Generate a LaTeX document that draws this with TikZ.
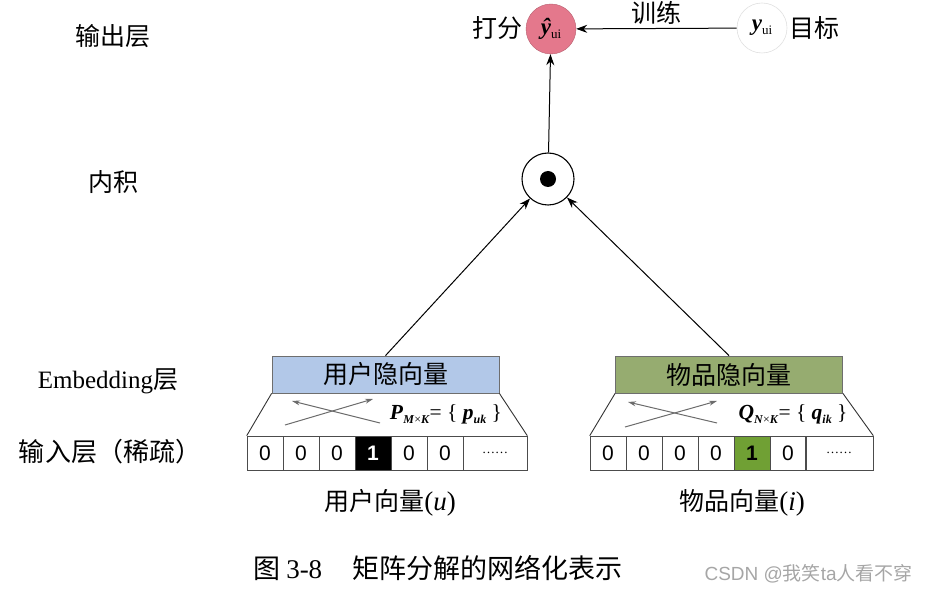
\documentclass[tikz,border=0pt]{standalone}
\usepackage{fontspec}
\setmainfont{Liberation Serif}
\newfontfamily\cjk{Noto Sans CJK SC}
\newfontfamily\lsans{Liberation Sans}
\usetikzlibrary{arrows.meta}
\definecolor{scorepink}{RGB}{228,120,140}
\definecolor{userblue}{RGB}{178,200,232}
\definecolor{itemgreen}{RGB}{150,172,112}
\definecolor{cellgreen}{RGB}{112,160,52}
\definecolor{edgegray}{RGB}{110,110,110}
\newcommand{\bi}[1]{\textbf{\textit{#1}}}
\begin{document}
\begin{tikzpicture}[x=1pt,y=-1pt,
  lbl/.style={inner sep=0pt, font=\fontsize{25}{30}\selectfont\cjk},
  boxlbl/.style={draw=edgegray, line width=0.8pt, minimum width=227, minimum height=37, inner sep=0pt, font=\fontsize{25}{30}\selectfont\cjk},
  cellbox/.style={draw=black!70, line width=0.6pt, minimum height=34, inner sep=0pt, font=\fontsize{21}{24}\selectfont\lsans},
  arr/.style={-{Stealth[length=11pt,width=8pt]}, line width=1pt},
  cross/.style={-{Stealth[length=8pt,width=5pt]}, draw=gray!85!black, line width=1pt},
  neuron/.style={circle, minimum size=50, inner sep=0pt}]
\useasboundingbox (0,0) rectangle (926,593);

% left labels
\node[lbl] (lout) at (113,36) {输出层};
\node[lbl] (lin) at (113,182) {内积};
\node[lbl, font=\fontsize{25}{30}\selectfont] (lemb) at (108,381) {Embedding\cjk 层};
\node[lbl, font=\fontsize{26}{30}\selectfont\cjk] (linp) at (110,452) {输入层（稀疏）};

% output layer
\node[neuron, fill=scorepink, draw=scorepink!80!black, line width=0.4pt] (score) at (551,29) {\fontsize{23}{26}\selectfont\bi{\^{y}}\raisebox{-0.35ex}{\fontsize{13}{14}\selectfont ui}};
\node[lbl, anchor=east] (dafen) at (523,28) {打分};
\node[neuron, draw=gray!25, line width=0.6pt] (target) at (762,28) {\fontsize{23}{26}\selectfont\bi{y}\raisebox{-0.35ex}{\fontsize{13}{14}\selectfont ui}};
\node[lbl, anchor=west] (mubiao) at (789,28) {目标};
\draw[arr] (target) -- node[lbl, above=4pt] (xunlian) {训练} (score);

% inner product
\node[circle, draw=black, line width=1.1pt, minimum size=52, inner sep=0pt] (dot) at (548,179) {};
\node[circle, fill=black, minimum size=16, inner sep=0pt] (dotc) at (dot.center) {};
\draw[arr] (dot) -- (score);

% embedding boxes
\node[boxlbl, fill=userblue] (uemb) at (385.5,374.5) {用户隐向量};
\node[boxlbl, fill=itemgreen] (iemb) at (729,374.5) {物品隐向量};
\draw[arr] (uemb.north) -- (dot);
\draw[arr] (iemb.north) -- (dot);

% user input cells
\foreach \i/\t in {1/0,2/0,3/0,5/0,6/0}
  \node[cellbox, minimum width=36] (u\i) at ({247+36*(\i-1)+18},453) {\t};
\node[cellbox, minimum width=36, fill=black, text=white, font=\fontsize{21}{24}\selectfont\lsans\bfseries] (u4) at ({247+36*3+18},453) {1};
\node[cellbox, minimum width=64, font=\fontsize{13}{14}\selectfont] (u7) at (495,453) {……};
\draw[line width=0.9pt, draw=black!80] (u1.north west) -- (uemb.south west);
\draw[line width=0.9pt, draw=black!80] (u7.north east) -- (uemb.south east);
\coordinate (ua1) at (285,425); \coordinate (ua2) at (373,399);
\coordinate (ub1) at (380,423); \coordinate (ub2) at (292,401);
\draw[cross] (ua1) -- (ua2);
\draw[cross] (ub1) -- (ub2);
\node[inner sep=0pt, font=\fontsize{21.5}{24}\selectfont] (pform) at (446,414) {\bi{P}\raisebox{-0.4ex}{\fontsize{12}{14}\selectfont\bi{M}×\bi{K}}= \{ \bi{p}\raisebox{-0.4ex}{\fontsize{12}{14}\selectfont\bi{uk}} \}};

% item input cells
\foreach \i/\t in {1/0,2/0,3/0,4/0,6/0}
  \node[cellbox, minimum width=36] (v\i) at ({590+36*(\i-1)+18},453) {\t};
\node[cellbox, minimum width=36, fill=cellgreen, font=\fontsize{21}{24}\selectfont\lsans\bfseries] (v5) at ({590+36*4+18},453) {1};
\node[cellbox, minimum width=68, font=\fontsize{13}{14}\selectfont] (v7) at (839,453) {……};
\draw[line width=0.9pt, draw=black!80] (v1.north west) -- (iemb.south west);
\draw[line width=0.9pt, draw=black!80] (v7.north east) -- (iemb.south east);
\coordinate (va1) at (625,427); \coordinate (va2) at (717,401);
\coordinate (vb1) at (717,423); \coordinate (vb2) at (628,402);
\draw[cross] (va1) -- (va2);
\draw[cross] (vb1) -- (vb2);
\node[inner sep=0pt, font=\fontsize{21.5}{24}\selectfont] (qform) at (793,414) {\bi{Q}\raisebox{-0.4ex}{\fontsize{12}{14}\selectfont\bi{N}×\bi{K}}= \{ \bi{q}\raisebox{-0.4ex}{\fontsize{12}{14}\selectfont\bi{ik}} \}};

% bottom labels
\node[lbl] (uvec) at (390,503) {用户向量\fontsize{27}{30}\selectfont\rmfamily(\textit{u})};
\node[lbl] (ivec) at (742,503) {物品向量\fontsize{27}{30}\selectfont\rmfamily(\textit{i})};

% caption
\node[lbl, anchor=west, font=\fontsize{27}{30}\selectfont\cjk] (cap) at (253,568) {图 {\rmfamily 3-8}\hspace{30pt}矩阵分解的网络化表示};
\node[lbl, anchor=east, text=gray!70, font=\fontsize{19}{22}\selectfont\cjk] (wm) at (913,574) {\lsans CSDN @\cjk 我笑\lsans ta\cjk 人看不穿};
\end{tikzpicture}
\end{document}
